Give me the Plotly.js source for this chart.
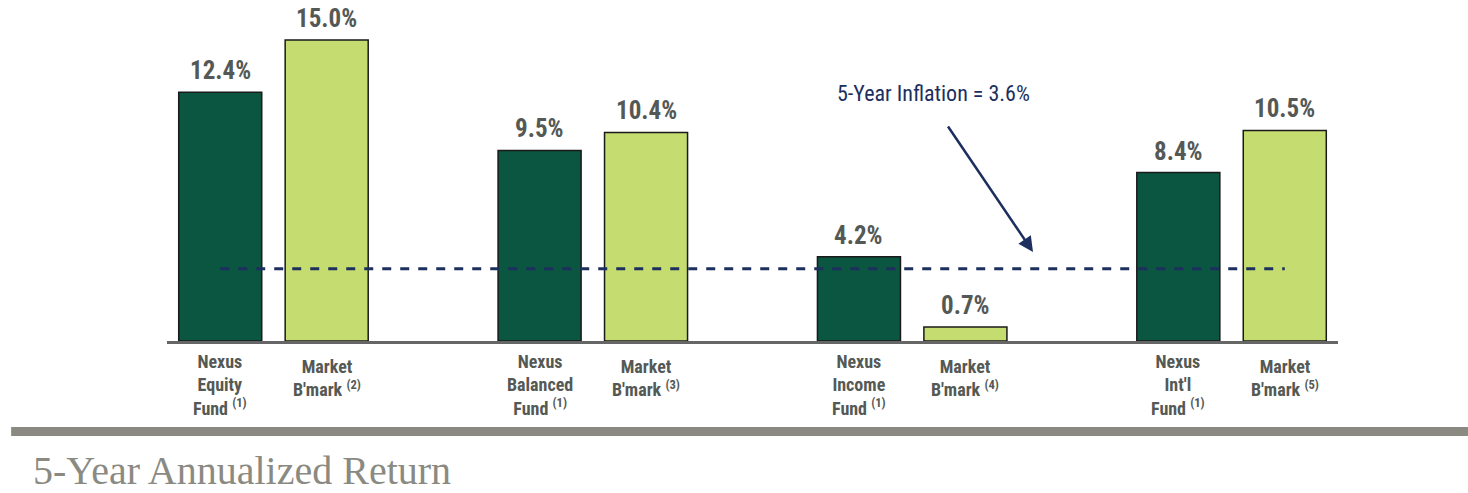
<!DOCTYPE html>
<html>
<head>
<meta charset="utf-8">
<script src="https://cdn.plot.ly/plotly-3.0.1.min.js"></script>
<style>
html,body{margin:0;padding:0;background:#fff;}
#chart{width:1468px;height:493px;}
</style>
</head>
<body>
<div id="chart"></div>
<script>
// ---- data ----
const groups = ["Equity", "Balanced", "Income", "Int'l"];
const fundReturns = [12.4, 9.5, 4.2, 8.4];
const benchReturns = [15.0, 10.4, 0.7, 10.5];
const inflation = 3.6;
const fundLabels = [
  "Nexus<br>Equity<br>Fund <sup>(1)</sup>",
  "Nexus<br>Balanced<br>Fund <sup>(1)</sup>",
  "Nexus<br>Income<br>Fund <sup>(1)</sup>",
  "Nexus<br>Int'l<br>Fund <sup>(1)</sup>"
];
const benchLabels = [
  "Market<br>B'mark <sup>(2)</sup>",
  "Market<br>B'mark <sup>(3)</sup>",
  "Market<br>B'mark <sup>(4)</sup>",
  "Market<br>B'mark <sup>(5)</sup>"
];
const inflationLabel = "5-Year Inflation = 3.6%";
const chartTitle = "5-Year Annualized Return";

// ---- styling ----
const NARROW = "Liberation Sans Narrow, Arial Narrow, Roboto Condensed, Liberation Sans, sans-serif";
const DARK = "#0b5640";
const LIGHT = "#c5dc70";
const NAVY = "#1c2f5e";
const GRAYTXT = "#555955";

// slot positions: each group uses 3 slots (fund, benchmark, gap)
const fundX = groups.map((g, i) => i * 3);
const benchX = groups.map((g, i) => i * 3 + 1);

const fmt = v => v.toFixed(1) + "%";

const traces = [
  {
    type: "bar", x: fundX, y: fundReturns, width: 0.78,
    marker: {color: DARK, line: {color: "#1a1a1a", width: 1.5}},
    hoverinfo: "skip", showlegend: false
  },
  {
    type: "bar", x: benchX, y: benchReturns, width: 0.78,
    marker: {color: LIGHT, line: {color: "#1a1a1a", width: 1.5}},
    hoverinfo: "skip", showlegend: false
  }
];

const annotations = [];
// value labels
function addValueLabels(xs, ys) {
  xs.forEach((x, i) => {
    annotations.push({
      x: x, y: ys[i], xref: "x", yref: "y", text: fmt(ys[i]),
      showarrow: false, yanchor: "bottom", yshift: 5,
      font: {family: NARROW, size: 25, color: GRAYTXT, weight: "bold"}
    });
  });
}
addValueLabels(fundX, fundReturns);
addValueLabels(benchX, benchReturns);

// category labels
function addCatLabels(xs, labels, topShift) {
  xs.forEach((x, i) => {
    annotations.push({
      x: x, y: 0, xref: "x", yref: "y", text: labels[i],
      showarrow: false, yanchor: "top", yshift: -topShift, align: "center",
      font: {family: NARROW, size: 18, color: GRAYTXT, weight: "bold"}
    });
  });
}
addCatLabels(fundX, fundLabels, 8);
addCatLabels(benchX, benchLabels, 13);

// inflation text + arrow
annotations.push({
  x: 6.7, y: 12.36, xref: "x", yref: "y", text: inflationLabel,
  showarrow: false, font: {family: NARROW, size: 22, color: NAVY}
});
annotations.push({
  x: 7.635, y: 4.44, xref: "x", yref: "y", text: "",
  showarrow: true, ax: -86, ay: -127, axref: "pixel", ayref: "pixel",
  arrowhead: 2, arrowsize: 1.2, arrowwidth: 2.5, arrowcolor: NAVY, standoff: 0
});

const layout = {
  width: 1468, height: 493,
  margin: {l: 167, r: 130, t: 0, b: 152},
  paper_bgcolor: "#ffffff", plot_bgcolor: "#ffffff",
  barmode: "overlay",
  xaxis: {
    range: [-0.5, 10.5], showgrid: false, zeroline: false,
    showticklabels: false, ticks: "",
    showline: true, linecolor: "#666666", linewidth: 3, fixedrange: true
  },
  yaxis: {
    range: [0, 17], showgrid: false, zeroline: false,
    showticklabels: false, ticks: "", showline: false, fixedrange: true
  },
  title: {
    text: chartTitle, x: 33 / 1468, xanchor: "left", xref: "container",
    y: 0.046, yanchor: "middle", yref: "container",
    font: {family: "Liberation Serif, DejaVu Serif, serif", size: 40, color: "#8a8a82"}
  },
  shapes: [
    {
      type: "line", xref: "x", yref: "y",
      x0: fundX[0], x1: benchX[benchX.length - 1], y0: inflation, y1: inflation,
      line: {color: NAVY, width: 3, dash: "dash"}, layer: "above"
    },
    {
      type: "rect", xref: "paper", yref: "paper",
      x0: -0.1331, x1: 1.111, y0: -0.2786, y1: -0.2522,
      fillcolor: "#8a8a82", line: {width: 0}
    }
  ],
  annotations: annotations
};

Plotly.newPlot("chart", traces, layout, {displayModeBar: false, staticPlot: true});
</script>
</body>
</html>
